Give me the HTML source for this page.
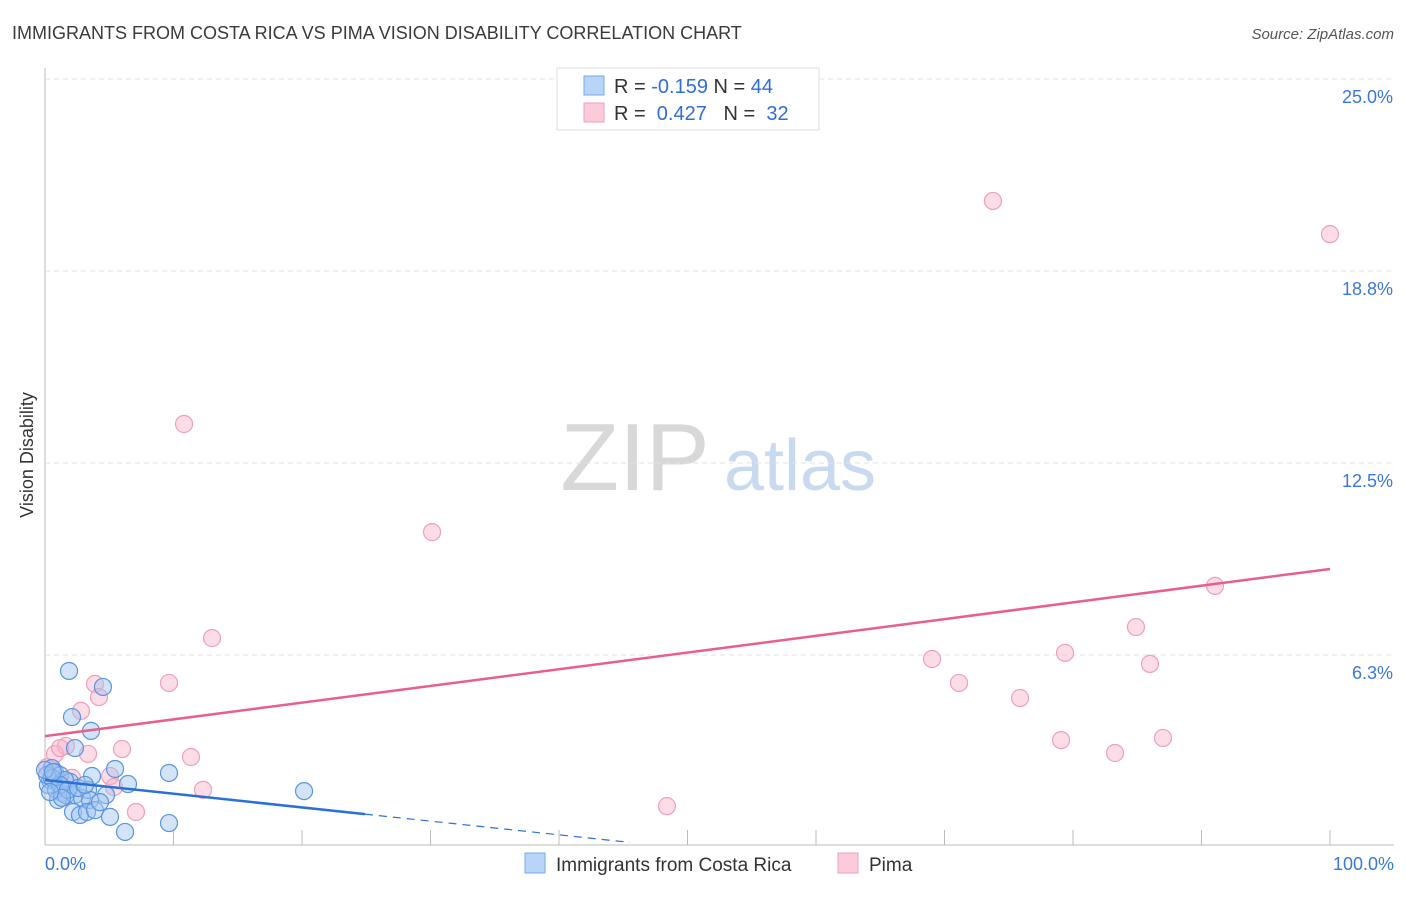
<!DOCTYPE html>
<html><head><meta charset="utf-8"><style>
body{margin:0;background:#fff;font-family:"Liberation Sans",sans-serif;}
svg text{font-family:"Liberation Sans",sans-serif;}
</style></head><body>
<svg id="chart" width="1406" height="892" xmlns="http://www.w3.org/2000/svg">
<text x="12" y="39" font-size="18" fill="#3a3a3a">IMMIGRANTS FROM COSTA RICA VS PIMA VISION DISABILITY CORRELATION CHART</text>
<text x="1394" y="39" font-size="15" fill="#555" text-anchor="end" font-style="italic">Source: ZipAtlas.com</text>
<text transform="translate(33,455) rotate(-90)" font-size="18" fill="#333" text-anchor="middle">Vision Disability</text>
<g>
<text x="635" y="490" font-size="96" fill="#d8d8d8" text-anchor="middle" font-family="Liberation Serif">ZIP</text>
<text x="800" y="490" font-size="72" fill="#c9daf0" text-anchor="middle">atlas</text>
</g>
<g id="grid"></g><g id="axes"></g><g id="marks"></g>
<g>
<rect x="557" y="68" width="262" height="62" fill="#fff" stroke="#ddd"/>
<rect x="584" y="76" width="20" height="19" fill="#b8d4f8" stroke="#7aaae8"/>
<text x="614" y="93" font-size="20" fill="#333">R = <tspan fill="#2f6ed8">-0.159</tspan>   N = <tspan fill="#2f6ed8">44</tspan></text>
<rect x="584" y="103" width="20" height="19" fill="#fccbda" stroke="#f0a0b8"/>
<text x="614" y="120" font-size="20" fill="#333" xml:space="preserve">R =  <tspan fill="#2f6ed8">0.427</tspan>   N =  <tspan fill="#2f6ed8">32</tspan></text>
</g>
<g>
<rect x="525" y="853" width="20" height="20" fill="#b8d4f8" stroke="#7aaae8"/>
<text x="556" y="871" font-size="19" fill="#333">Immigrants from Costa Rica</text>
<rect x="838" y="853" width="20" height="20" fill="#fccbda" stroke="#f0a0b8"/>
<text x="869" y="871" font-size="19" fill="#333">Pima</text>
</g>
</svg>
<script>
const blueX=[1.87,2.10,4.51,3.58,2.33,0.54,0.78,1.17,0.39,0.23,0.86,1.32,1.95,1.56,3.66,5.45,6.46,9.65,20.16,1.01,1.63,2.33,2.88,3.35,3.50,4.75,2.18,2.72,3.27,3.89,5.06,6.23,9.65,0.16,0.54,0.0,1.17,1.79,2.57,3.11,4.28,1.32,0.62,0.39];
const blueY=[5.73,4.23,5.21,3.78,3.22,2.57,2.44,2.34,2.18,2.02,1.86,1.76,2.12,2.18,2.31,2.54,2.05,2.41,1.82,1.53,1.69,1.69,1.60,1.86,1.53,1.69,1.14,1.04,1.14,1.20,0.98,0.49,0.78,2.34,2.25,2.51,2.02,1.86,1.92,2.02,1.46,1.60,2.44,1.79];
const pinkX=[10.82,73.77,100,30.12,13.0,9.65,3.89,4.20,2.80,69.03,71.13,75.88,79.38,84.9,85.99,91.05,79.07,83.27,87.0,48.4,11.36,12.3,7.08,5.99,3.35,1.63,0.78,0.16,2.10,5.06,5.37,1.17];
const pinkY=[13.77,21.03,19.95,10.25,6.80,5.34,5.31,4.88,4.43,6.12,5.34,4.85,6.32,7.16,5.96,8.50,3.48,3.06,3.55,1.33,2.93,1.86,1.14,3.19,3.03,3.29,3.03,2.60,2.25,2.31,1.95,3.22];
const blueTrend=[2.18,-0.0446];
const pinkTrend=[3.61,0.0544];
const yTicks=[6.25,12.5,18.75,25];
const yTickLabels=["6.3%","12.5%","18.8%","25.0%"];
const xTicks=[0,10,20,30,40,50,60,70,80,90,100];
const NS="http://www.w3.org/2000/svg";
const X=v=>45+v*12.85, Y=v=>847-v*30.72;
function mk(t,a,p){const e=document.createElementNS(NS,t);for(const k in a)e.setAttribute(k,a[k]);p.appendChild(e);return e;}
const grid=document.getElementById('grid'),axes=document.getElementById('axes'),marks=document.getElementById('marks');
yTicks.forEach((v,i)=>{
 const l=mk('line',{x1:45,x2:1394,y1:Y(v),y2:Y(v),stroke:'#e2e2e2','stroke-dasharray':'5,4'},grid);
 
 
 const t=mk('text',{x:1393,y:Y(v)+24,'font-size':18,fill:'#3a78d8','text-anchor':'end'},axes);t.textContent=yTickLabels[i];
 
 
});
const ya=mk('line',{x1:45,x2:45,y1:68,y2:845,stroke:'#bbb'},axes);


const xa=mk('line',{x1:45,x2:1394,y1:845,y2:845,stroke:'#bbb'},axes);


xTicks.forEach(v=>{const t=mk('line',{x1:X(v),x2:X(v),y1:830,y2:845,stroke:'#bbb'},axes);
 
 });
const xl0=mk('text',{x:45,y:870,'font-size':18,fill:'#3a78d8'},axes);xl0.textContent="0.0%";


const xl1=mk('text',{x:1394,y:870,'font-size':18,fill:'#3a78d8','text-anchor':'end'},axes);xl1.textContent="100.0%";


pinkX.forEach((x,i)=>{const c=mk('circle',{cx:X(x),cy:Y(pinkY[i]),r:8.5,fill:'rgba(248,180,202,0.45)',stroke:'#eea0b8','stroke-width':1.2},marks);
 
 });
blueX.forEach((x,i)=>{const c=mk('circle',{cx:X(x),cy:Y(blueY[i]),r:8.5,fill:'rgba(160,196,240,0.45)',stroke:'#5a95e0','stroke-width':1.2},marks);
 
 });
const pt=mk('line',{x1:X(0),y1:Y(pinkTrend[0]),x2:X(100),y2:Y(pinkTrend[0]+pinkTrend[1]*100),stroke:'#e8608a','stroke-width':2.5},marks);


const bt=mk('line',{x1:X(0),y1:Y(blueTrend[0]),x2:X(24.9),y2:Y(blueTrend[0]+blueTrend[1]*24.9),stroke:'#2a70d8','stroke-width':2.5},marks);


const bd=mk('line',{x1:X(24.9),y1:Y(blueTrend[0]+blueTrend[1]*24.9),x2:X(45.5),y2:Y(blueTrend[0]+blueTrend[1]*45.5),stroke:'#2a70d8','stroke-width':1.2,'stroke-dasharray':'8,6'},marks);


</script>
</body></html>
